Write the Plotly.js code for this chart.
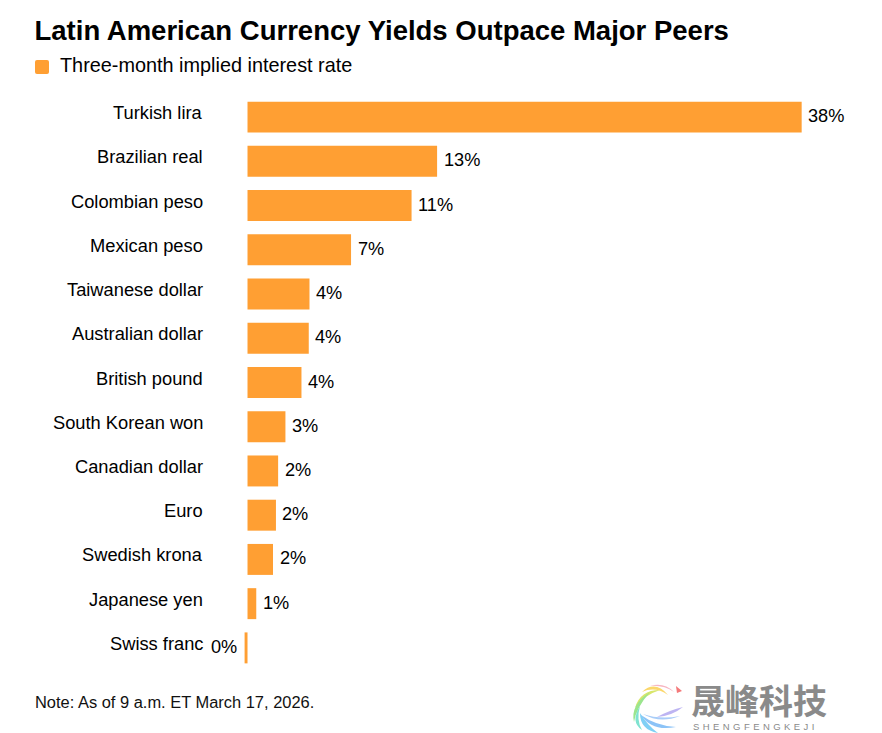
<!DOCTYPE html>
<html><head><meta charset="utf-8">
<script src="https://cdn.plot.ly/plotly-3.0.1.min.js"></script>
<style>html,body{margin:0;padding:0;background:#fff}#c{width:882px;height:733px}</style>
</head><body><div id="c"></div>
<script>
const categories = ["Turkish lira","Brazilian real","Colombian peso","Mexican peso","Taiwanese dollar","Australian dollar","British pound","South Korean won","Canadian dollar","Euro","Swedish krona","Japanese yen","Swiss franc"];
const rates = [38.0,13.0,11.25,7.1,4.25,4.2,3.7,2.6,2.1,1.95,1.75,0.6,-0.2];
const valueLabels = ["38%","13%","11%","7%","4%","4%","4%","3%","2%","2%","2%","1%","0%"];
const titleText = "Latin American Currency Yields Outpace Major Peers";
const legendText = "Three-month implied interest rate";
const noteText = "Note: As of 9 a.m. ET March 17, 2026.";

const W=882,H=733,L=233,R=22,T=94.9,B=62.9;
const FONT='"Liberation Sans", Arial, sans-serif';
const BAR='#FF9F33';
const fx=x=>(x-L)/(W-L-R), fy=y=>1-(y-T)/(H-T-B);
const pt=(x,y)=>fx(x).toFixed(5)+','+fy(y).toFixed(5);
const pathOf=(cmds)=>cmds.map(c=>c[0]+c.slice(1).map(p=>pt(p[0],p[1])).join(' ')).join(' ');
const shape=(cmds,color)=>({type:'path',xref:'paper',yref:'paper',path:pathOf(cmds)+' Z',fillcolor:color,line:{width:0},layer:'above'});
const txt=(x,y,text,size,color,extra)=>Object.assign({xref:'paper',yref:'paper',x:fx(x),y:fy(y),text,showarrow:false,xanchor:'left',yanchor:'middle',borderpad:0,font:{family:FONT,size,color}},extra||{});

const feather=(x0,y0,cx1,cy1,x1,y1,cx2,cy2,color)=>shape([['M',[x0,y0]],['Q',[cx1,cy1],[x1,y1]],['Q',[cx2,cy2],[x0,y0]]],color);
const logo=[
 shape([['M',[676,686]],['L',[682,691]],['L',[677,693]]],'#F4797A'),
 feather(674,692,664,682,650,686,664,685,'#F7B6C2'),
 feather(668,695,655,680,642,692,655,686,'#FBD76A'),
 feather(660,690,640,690,635,708,644,695,'#D8E66A'),
 feather(650,692,630,705,634,722,636,708,'#9BE58E'),
 feather(640,706,630,722,642,730,636,720,'#7FE3D0'),
 feather(640,713,640,730,658,733,648,726,'#7FD0F5'),
 feather(641,715,652,732,676,727,656,726,'#8CC3F7'),
 feather(643,714,660,724,680,716,660,720,'#A9CDF8'),
 feather(657,717,672,716,683,707,670,710,'#BDB4F2')
];

const annotations=[
 txt(59,64.5,legendText,19.85,'#000'),
 txt(34,702,noteText,16.45,'#111'),
 txt(690,699.5,'晟峰科技',34,'#8A8A8A',{font:{family:'"Noto Sans CJK SC"',size:34,color:'#8A8A8A',weight:700}}),
 txt(692,727,'S\u00A0H\u00A0E\u00A0N\u00A0G\u00A0F\u00A0E\u00A0N\u00A0G\u00A0K\u00A0E\u00A0J\u00A0I'.replace(/\u00A0/g,'\u00A0\u200A'),9.5,'#8A8A8A')
];
categories.forEach((c,i)=>{
 annotations.push({xref:'x',yref:'y',x:0,y:c,text:c,showarrow:false,xanchor:'right',yanchor:'middle',xshift:-43.5,yshift:4.5,borderpad:0,font:{family:FONT,size:18.3,color:'#000'}});
 const neg=rates[i]<0;
 annotations.push({xref:'x',yref:'y',x:rates[i],y:c,text:valueLabels[i],showarrow:false,xanchor:neg?'right':'left',yanchor:'middle',xshift:neg?-7:5.5,yshift:1,borderpad:0,font:{family:FONT,size:18.2,color:'#000'}});
});

Plotly.newPlot('c',[{type:'bar',orientation:'h',y:categories,x:rates,marker:{color:BAR,line:{width:0}},hoverinfo:'skip',showlegend:false}],{
 width:W,height:H,paper_bgcolor:'#fff',plot_bgcolor:'#fff',
 margin:{l:L,r:R,t:T,b:B,pad:0},bargap:0.3,showlegend:false,
 title:{text:'<b>'+titleText+'</b>',x:34.5/W,xref:'container',xanchor:'left',y:1-30.5/H,yref:'container',yanchor:'middle',font:{family:FONT,size:27.5,color:'#000'}},
 xaxis:{range:[-0.995,42.0],visible:false,fixedrange:true},
 yaxis:{type:'category',categoryorder:'array',categoryarray:categories,autorange:false,range:[12.5,-0.5],visible:false,fixedrange:true},
 annotations,
 shapes:[shape([['M',[37,60]],['L',[47,60]],['Q',[49,60],[49,62]],['L',[49,72]],['Q',[49,74],[47,74]],['L',[37,74]],['Q',[35,74],[35,72]],['L',[35,62]],['Q',[35,60],[37,60]]],BAR)].concat(logo)
},{displayModeBar:false,staticPlot:true});
</script></body></html>
